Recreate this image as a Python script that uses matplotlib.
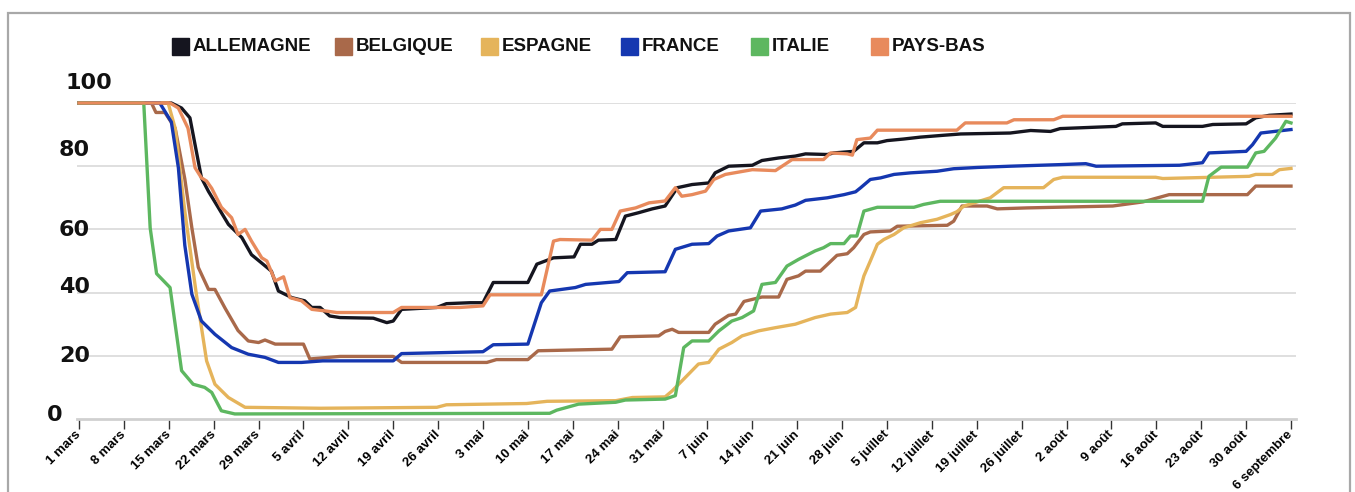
import matplotlib
matplotlib.use("Agg")
import matplotlib.pyplot as plt
from matplotlib.patches import Rectangle

W, H, DPI = 1355, 492, 100

countries = ["ALLEMAGNE", "BELGIQUE", "ESPAGNE", "FRANCE", "ITALIE", "PAYS-BAS"]
colors = ["#15151f", "#a9694a", "#e5b45b", "#1537b0", "#5db760", "#e88a5c"]

# jours depuis le 1er mars
tick_days = list(range(0, 190, 7))
tick_labels = ["1 mars", "8 mars", "15 mars", "22 mars", "29 mars", "5 avril",
               "12 avril", "19 avril", "26 avril", "3 mai", "10 mai", "17 mai",
               "24 mai", "31 mai", "7 juin", "14 juin", "21 juin", "28 juin",
               "5 juillet", "12 juillet", "19 juillet", "26 juillet", "2 août",
               "9 août", "16 août", "23 août", "30 août", "6 septembre"]
y_labels = [0, 20, 40, 60, 80, 100]

allemagne = [(0, 100), (14.4, 100), (16, 98.4), (17.3, 95.3), (18.1, 86.8), (19.1, 76.3),
             (20.2, 72), (21.7, 67), (23.3, 61.6), (25.4, 57.4), (26.9, 52), (28.7, 49),
             (30, 46.8), (31.1, 40.5), (33.2, 38.4), (35.2, 37.4), (36.3, 35.3), (37.6, 35.3),
             (39.1, 32.6), (40.7, 32.1), (45.9, 31.9), (48, 30.5), (49, 31), (50.3, 34.7),
             (55.8, 35.3), (57.3, 36.5), (61, 36.8), (63, 36.8), (64.6, 43.2), (70, 43.2),
             (71.4, 49), (74, 51), (77.2, 51.3), (78.2, 55.3), (80, 55.3), (81, 56.6),
             (83.7, 56.8), (85.2, 64.2), (87.3, 65.3), (89.4, 66.5), (91.4, 67.4), (93.3, 73.2),
             (95.6, 74.2), (98.2, 74.7), (99.2, 77.9), (101.3, 80), (105, 80.3), (106.5, 81.8),
             (109.1, 82.6), (111.7, 83.2), (113.3, 83.9), (116.7, 83.7), (117.7, 84.2),
             (120.8, 84.7), (122.4, 87.4), (124.5, 87.4), (126, 88.1), (128.6, 88.6),
             (131.2, 89.2), (134.9, 89.8), (137.5, 90.2), (145.2, 90.5), (148.4, 91.3),
             (151.5, 91), (153, 91.9), (155.5, 92.1), (161.7, 92.6), (162.7, 93.4),
             (167.9, 93.7), (169, 92.6), (175.2, 92.6), (176.8, 93.2), (182, 93.4),
             (183.5, 95.3), (185.6, 96.1), (189, 96.5)]

belgique = [(0, 100), (11.3, 100), (12, 97), (13.4, 97), (15, 92), (16.5, 76), (17.6, 60.5),
            (18.6, 48), (20.2, 41), (21.2, 41), (22.8, 35), (24.8, 28), (26.4, 24.7),
            (28, 24.2), (29, 25), (30.6, 23.7), (35, 23.7), (36, 19), (40.7, 19.8), (49, 19.8),
            (50.3, 17.9), (63.6, 17.9), (65.1, 18.8), (70, 18.8), (71.6, 21.6), (83.1, 22.1),
            (84.4, 26), (90.4, 26.3), (91.4, 27.7), (92.5, 28.4), (93.5, 27.4), (98.2, 27.4),
            (99.2, 30), (101.3, 32.8), (102.4, 33.2), (103.7, 37.2), (106.5, 38.6),
            (109.1, 38.6), (110.4, 44.2), (112.2, 45.3), (113.3, 46.8), (115.6, 46.8),
            (116.7, 48.9), (118.2, 51.8), (119.8, 52.3), (120.8, 54.2), (122.4, 58.4),
            (123.4, 59.2), (126.5, 59.5), (127.6, 61), (135.4, 61.3), (136.4, 62.6),
            (137.7, 67.4), (141.6, 67.4), (143.2, 66.5), (147.8, 66.8), (161.2, 67.4),
            (165.9, 68.7), (170, 71), (182.2, 71), (183.5, 73.7), (189, 73.7)]

espagne = [(0, 100), (13.9, 100), (15, 92), (16.5, 65.8), (18.3, 39.5), (19.9, 18.4),
           (21.2, 11), (23.3, 6.8), (25.9, 3.7), (37.6, 3.4), (55.8, 3.7), (57.3, 4.5),
           (69.8, 4.9), (73, 5.6), (83.7, 5.8), (86.3, 6.8), (91.4, 7), (92.5, 8.9),
           (96.6, 17.4), (98.2, 17.9), (99.8, 22.1), (101.8, 24.2), (103.4, 26.3), (106, 27.9),
           (108.6, 28.9), (111.7, 30), (114.8, 32.1), (117.2, 33.2), (119.8, 33.7),
           (121.1, 35.3), (121.9, 41.6), (122.4, 45.3), (123.4, 50), (124.5, 55.3),
           (125.5, 56.8), (127.1, 58.4), (128.6, 60.5), (131.2, 62.1), (133.8, 63.2),
           (135.9, 64.7), (136.9, 65.6), (138, 67.4), (142.1, 70), (144.2, 73.2),
           (150.4, 73.2), (152, 75.8), (153.4, 76.5), (167.9, 76.5), (169, 76.1),
           (182.5, 76.8), (183.5, 77.4), (186.1, 77.4), (187.2, 78.9), (189, 79.3)]

france = [(0, 100), (12.6, 100), (14.4, 94), (15.5, 79.5), (16.5, 55), (17.6, 39.5), (19.1, 31),
          (21.2, 26.8), (23.8, 22.6), (26.4, 20.5), (29, 19.5), (31.1, 17.9), (34.7, 17.9),
          (38, 18.4), (49, 18.4), (50.3, 20.7), (63, 21.3), (64.6, 23.5), (70, 23.7),
          (72.1, 36.8), (73.4, 40.5), (77.4, 41.6), (79, 42.6), (84.2, 43.5), (85.5, 46.3),
          (91.4, 46.6), (93, 53.7), (95.6, 55.3), (98.2, 55.5), (99.5, 57.9), (101.3, 59.5),
          (104.7, 60.5), (106.3, 65.8), (109.6, 66.5), (111.7, 67.7), (113.3, 69.2),
          (116.7, 70), (119.3, 71), (121.1, 71.9), (121.9, 73.2), (123.4, 75.8), (125, 76.3),
          (127.1, 77.4), (129.7, 77.9), (133.8, 78.4), (136.4, 79.2), (140.1, 79.6),
          (145.2, 80), (153, 80.5), (157, 80.8), (158.6, 80), (171.6, 80.3), (175.2, 81.1),
          (176.2, 84.2), (182, 84.7), (183, 86.8), (184.3, 90.5), (187.7, 91.3), (189, 91.6)]

italie = [(0, 100), (10.1, 100), (11.1, 60.5), (12.1, 46), (14.2, 41.6), (16, 15.3),
          (17.8, 11), (19.6, 10), (20.7, 8.4), (22.2, 2.6), (24.3, 1.6), (73.4, 1.8),
          (74.5, 2.8), (77.9, 4.7), (83.7, 5.3), (85.2, 6), (91.4, 6.3), (93, 7.4),
          (94.3, 22.6), (95.6, 24.7), (98.2, 24.7), (99.8, 27.9), (101.8, 31), (103.4, 32.1),
          (105.2, 34.2), (106.5, 42.6), (108.6, 43.2), (110.4, 48.4), (112.2, 50.5),
          (114.8, 53.2), (116.1, 54.2), (117.2, 55.5), (119.3, 55.5), (120.3, 57.9),
          (121.3, 57.9), (122.4, 65.8), (124.5, 67), (130.2, 67), (131.7, 67.9),
          (134.3, 68.9), (175.2, 68.9), (176.2, 76.8), (178.1, 79.7), (182.2, 79.7),
          (183.5, 84.2), (184.8, 84.7), (186.6, 88.9), (188.2, 94.2), (189, 93.7)]

pays_bas = [(0, 100), (14.2, 100), (15.5, 98.4), (17, 92), (18.1, 79.5), (19.1, 76.3),
            (19.9, 75.3), (20.7, 73), (22.2, 67), (23.8, 63.7), (24.8, 58.4), (25.9, 60),
            (26.9, 56.3), (28.5, 51), (29.3, 50), (30.6, 43.7), (31.9, 45), (32.9, 38.4),
            (34.7, 37.4), (36.3, 34.7), (38.4, 34.2), (40.2, 33.7), (49, 33.7), (50.3, 35.3),
            (59.4, 35.3), (63, 35.8), (64.1, 39.3), (72.1, 39.3), (74, 56.3), (75, 56.8),
            (80, 56.6), (81.3, 60), (83.1, 60), (84.4, 65.8), (86.8, 66.8), (88.9, 68.4),
            (91.4, 69), (93, 73.2), (94, 70.5), (95.6, 71), (97.7, 72.1), (99, 75.8),
            (100.8, 77.4), (105, 78.9), (108.6, 78.6), (111.2, 82.1), (116.1, 82.1),
            (117.2, 84.2), (119.8, 83.9), (120.6, 83.5), (121.3, 88.4), (123.4, 88.9),
            (124.5, 91.4), (136.9, 91.4), (138.2, 93.7), (144.7, 93.7), (145.8, 94.7),
            (152, 94.7), (153.4, 95.8), (189, 95.8)]

series = [allemagne, belgique, espagne, france, italie, pays_bas]

plt.rcParams['font.family'] = ['Liberation Sans', 'DejaVu Sans']


def fx(x):
    return x / W


def fy(y):
    return 1 - y / H


fig = plt.figure(figsize=(W / DPI, H / DPI), dpi=DPI)
fig.patch.set_facecolor("white")

# cadre gris autour
fig.patches.append(Rectangle((fx(8), fy(500)), fx(1350) - fx(8), fy(13) - fy(500),
                             transform=fig.transFigure, fill=False,
                             edgecolor="#a8a8a8", linewidth=1.6))

ax = fig.add_axes([fx(77), fy(419), fx(1296) - fx(77), fy(103) - fy(419)])
ax.set_xlim(-0.31, 189.78)
ax.set_ylim(0, 100)

for v in y_labels[1:]:
    ax.axhline(v, color="#dcdcdc", lw=1.3, zorder=0)

for data, c in zip(series, colors):
    xs = [p[0] for p in data]
    ys = [p[1] for p in data]
    ax.plot(xs, ys, color=c, lw=2.4, solid_joinstyle="round", clip_on=False, zorder=3)

for s in ["top", "right", "left"]:
    ax.spines[s].set_visible(False)
ax.spines["bottom"].set_color("#d0d0d0")
ax.spines["bottom"].set_linewidth(2)

ax.set_yticks([])
ax.set_xticks(tick_days)
ax.set_xticklabels(tick_labels)
ax.tick_params(axis="x", length=7, width=1, color="#333333", pad=3)
for lbl in ax.get_xticklabels():
    lbl.set_rotation(45)
    lbl.set_ha("right")
    lbl.set_va("center")
    lbl.set_rotation_mode("anchor")
    lbl.set_fontsize(9.5)
    lbl.set_fontweight("bold")

# étiquettes de l'axe vertical
y_label_pos = [(62, 415), (90, 356), (90, 287), (90, 230), (90, 150), (112, 83)]
for v, (x, y) in zip(y_labels, y_label_pos):
    fig.text(fx(x), fy(y), str(v), ha="right", va="center", family="DejaVu Sans",
             fontsize=16, fontweight="bold", color="#111111")

# légende
legend_x = [172, 335, 481, 621, 751, 871]
for name, c, x in zip(countries, colors, legend_x):
    fig.patches.append(Rectangle((fx(x), fy(55)), fx(17), 17 / H,
                                 transform=fig.transFigure, color=c))
    fig.text(fx(x + 21), fy(46.5), name, ha="left", va="center",
             fontsize=13.5, fontweight="bold", color="#111111")

fig.savefig("out.png", dpi=DPI)
